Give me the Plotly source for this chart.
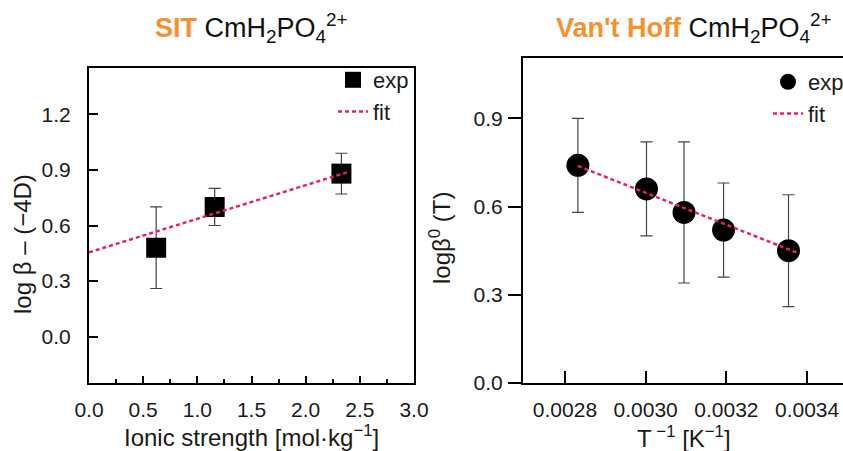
import plotly.graph_objects as go

# --- SIT panel data ---
ionic_strength = [0.62, 1.16, 2.33]
sit_logb = [0.48, 0.70, 0.88]
sit_err = [0.22, 0.10, 0.11]
sit_fit_x = [0.0, 2.40]
sit_fit_y = [0.455, 0.89]

# --- Van't Hoff panel data ---
inv_temp = [0.002832, 0.003002, 0.003095, 0.003193, 0.003354]
vh_logb = [0.74, 0.66, 0.58, 0.52, 0.45]
vh_err = [0.16, 0.16, 0.24, 0.16, 0.19]
vh_fit_x = [0.002832, 0.003375]
vh_fit_y = [0.738, 0.443]

sit_xticks = [0.0, 0.5, 1.0, 1.5, 2.0, 2.5, 3.0]
sit_yticks = [0.0, 0.3, 0.6, 0.9, 1.2]
vh_xticks = [0.0028, 0.0030, 0.0032, 0.0034]
vh_yticks = [0.0, 0.3, 0.6, 0.9]

FONT = "Liberation Sans, Arial, sans-serif"
ORANGE = "#F5922F"
FIT_RED = "#E8235A"
ERR_GREY = "#444444"
TEXT = "#1a1a1a"

W, H = 843, 451


def px_x(p):
    return p / W


def px_y(p):
    return 1 - p / H


fig = go.Figure()

# SIT panel
fig.add_trace(go.Scatter(
    x=ionic_strength, y=sit_logb, mode="markers", name="exp",
    marker=dict(symbol="square", size=20, color="black"),
    error_y=dict(type="data", array=sit_err, color=ERR_GREY, thickness=1.2, width=6),
    xaxis="x", yaxis="y", legend="legend",
))
fig.add_trace(go.Scatter(
    x=sit_fit_x, y=sit_fit_y, mode="lines", name="fit",
    line=dict(color=FIT_RED, width=2.5, dash="4px,3px"),
    xaxis="x", yaxis="y", legend="legend",
))

# Van't Hoff panel
fig.add_trace(go.Scatter(
    x=inv_temp, y=vh_logb, mode="markers", name="exp",
    marker=dict(symbol="circle", size=23, color="black"),
    error_y=dict(type="data", array=vh_err, color=ERR_GREY, thickness=1.2, width=6),
    xaxis="x2", yaxis="y2", legend="legend2",
))
fig.add_trace(go.Scatter(
    x=vh_fit_x, y=vh_fit_y, mode="lines", name="fit",
    line=dict(color=FIT_RED, width=2.5, dash="4px,3px"),
    xaxis="x2", yaxis="y2", legend="legend2",
))

tick_font = dict(family=FONT, size=21, color=TEXT)
label_font = dict(family=FONT, size=24, color=TEXT)
legend_font = dict(family=FONT, size=22, color=TEXT)
head_font = dict(family=FONT, size=27, color="#111")

fig.update_layout(
    width=W, height=H,
    margin=dict(l=0, r=0, t=0, b=0, autoexpand=False),
    paper_bgcolor="white", plot_bgcolor="white",
    font=dict(family=FONT, size=20, color=TEXT),
    xaxis=dict(
        domain=[px_x(89), px_x(414)], range=[0, 3.0],
        tickvals=sit_xticks, ticktext=[f"{v:.1f}" for v in sit_xticks],
        ticks="inside", ticklen=7, tickwidth=2, tickcolor="black",
        minor=dict(dtick=0.25, tick0=0, ticks="inside", ticklen=4, tickwidth=2, tickcolor="black"),
        showline=True, linewidth=2, linecolor="black", mirror=True,
        showgrid=False, zeroline=False, tickfont=tick_font,
        ticklabelstandoff=7,
        anchor="y",
    ),
    yaxis=dict(
        domain=[px_y(383), px_y(68)], range=[-0.25, 1.45],
        tickvals=sit_yticks, ticktext=[f"{v:.1f}" for v in sit_yticks],
        ticks="inside", ticklen=9, tickwidth=2, tickcolor="black",
        showline=True, linewidth=2, linecolor="black", mirror=True,
        showgrid=False, zeroline=False, tickfont=tick_font,
        ticklabelstandoff=12,
        anchor="x",
    ),
    xaxis2=dict(
        domain=[px_x(523), 1.0], range=[0.002696, 0.003489],
        tickvals=vh_xticks, ticktext=[f"{v:.4f}" for v in vh_xticks],
        ticks="inside", ticklen=12, tickwidth=2, tickcolor="black",
        showline=True, linewidth=2, linecolor="black", mirror=True,
        showgrid=False, zeroline=False, tickfont=tick_font,
        ticklabelstandoff=7,
        anchor="y2",
    ),
    yaxis2=dict(
        domain=[px_y(383), px_y(58)], range=[0, 1.105],
        tickvals=vh_yticks, ticktext=[f"{v:.1f}" for v in vh_yticks],
        ticks="outside", ticklen=13, tickwidth=2, tickcolor="black",
        showline=True, linewidth=2, linecolor="black", mirror=False,
        showgrid=False, zeroline=False, tickfont=tick_font,
        ticklabelstandoff=1,
        anchor="x2",
    ),
    legend=dict(
        x=px_x(414), xanchor="right", y=px_y(59), yanchor="top",
        bgcolor="rgba(0,0,0,0)", font=legend_font,
        itemwidth=30, tracegroupgap=0,
    ),
    legend2=dict(
        x=px_x(768), xanchor="left", y=px_y(61), yanchor="top",
        bgcolor="rgba(0,0,0,0)", font=legend_font,
        itemwidth=30, tracegroupgap=0,
    ),
    showlegend=True,
)

# panel headings and axis labels
annotations = [
    (f"<b><span style='color:{ORANGE}'>SIT</span></b> CmH<sub>2</sub>PO<sub>4</sub><sup>2+</sup>",
     252, 28, 0, head_font),
    (f"<b><span style='color:{ORANGE}'>Van't Hoff</span></b> CmH<sub>2</sub>PO<sub>4</sub><sup>2+</sup>",
     694, 28, 0, head_font),
    ("Ionic strength [mol·kg<sup>−1</sup>]", 252, 436, 0, label_font),
    ("T<sup> −1</sup> [K<sup>−1</sup>]", 684, 437, 0, label_font),
    ("log β – (−4D)", 22, 244, -90, label_font),
    ("logβ<sup>0</sup> (T)", 440, 238, -90, label_font),
]
for text, ax, ay, angle, fnt in annotations:
    fig.add_annotation(
        text=text, x=px_x(ax), y=px_y(ay), xref="paper", yref="paper",
        xanchor="center", yanchor="middle", textangle=angle,
        showarrow=False, font=fnt,
    )

fig.write_html("out.html")
